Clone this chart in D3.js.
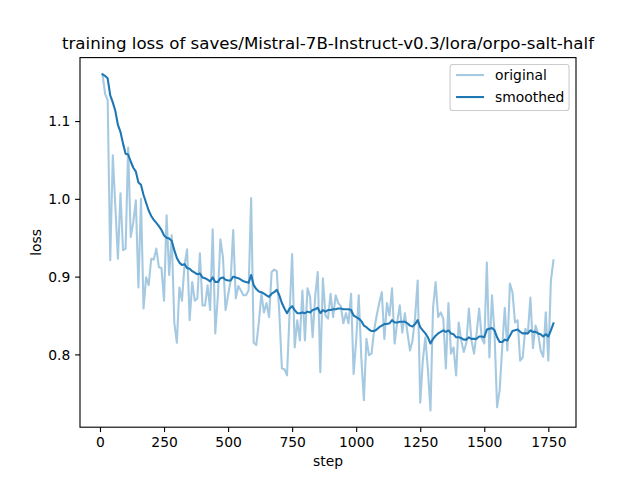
<!DOCTYPE html>
<html>
<head>
<meta charset="utf-8">
<script src="https://cdn.jsdelivr.net/npm/d3@7"></script>
<style>
  html, body { margin: 0; padding: 0; background: #fff; }
  svg { display: block; font-family: "DejaVu Sans", sans-serif; }
</style>
</head>
<body>
<svg id="chart" width="640" height="480"></svg>
<script>
const titleText = "training loss of saves/Mistral-7B-Instruct-v0.3/lora/orpo-salt-half";
const xLabel = "step";
const yLabel = "loss";
const seriesNames = ["original", "smoothed"];
const xTicks = [0, 250, 500, 750, 1000, 1250, 1500, 1750];
const yTicks = [0.8, 0.9, 1.0, 1.1];

const steps = [10,20,30,40,50,60,70,80,90,100,110,120,130,140,150,160,170,180,190,200,
210,220,230,240,250,260,270,280,290,300,310,320,330,340,350,360,370,380,390,400,
410,420,430,440,450,460,470,480,490,500,510,520,530,540,550,560,570,580,590,600,
610,620,630,640,650,660,670,680,690,700,710,720,730,740,750,760,770,780,790,800,
810,820,830,840,850,860,870,880,890,900,910,920,930,940,950,960,970,980,990,1000,
1010,1020,1030,1040,1050,1060,1070,1080,1090,1100,1110,1120,1130,1140,1150,1160,1170,1180,1190,1200,
1210,1220,1230,1240,1250,1260,1270,1280,1290,1300,1310,1320,1330,1340,1350,1360,1370,1380,1390,1400,
1410,1420,1430,1440,1450,1460,1470,1480,1490,1500,1510,1520,1530,1540,1550,1560,1570,1580,1590,1600,
1610,1620,1630,1640,1650,1660,1670,1680,1690,1700,1710,1720,1730,1740,1750,1760,1770];

const original = [1.160,1.135,1.127,0.921,1.056,0.990,0.923,1.007,0.934,0.936,
1.066,0.951,0.970,0.998,0.886,1.000,0.859,0.899,0.889,0.923,
0.922,0.936,0.912,0.911,0.869,0.979,0.902,0.953,0.841,0.815,
0.886,0.869,0.915,0.935,0.844,0.893,0.869,0.872,0.930,0.863,
0.863,0.889,0.857,0.961,0.827,0.874,0.948,0.925,0.857,0.876,
0.895,0.960,0.872,0.888,0.882,0.876,0.876,0.882,1.001,0.815,
0.812,0.841,0.878,0.854,0.866,0.848,0.906,0.909,0.907,0.853,
0.782,0.781,0.773,0.853,0.929,0.809,0.844,0.818,0.882,0.818,
0.885,0.874,0.822,0.875,0.906,0.777,0.898,0.850,0.846,0.878,
0.848,0.876,0.866,0.862,0.840,0.853,0.840,0.878,0.775,0.818,
0.876,0.796,0.741,0.820,0.799,0.801,0.831,0.850,0.866,0.880,
0.820,0.866,0.850,0.885,0.814,0.841,0.863,0.828,0.853,0.828,
0.805,0.818,0.848,0.895,0.738,0.792,0.822,0.780,0.728,0.860,
0.893,0.848,0.854,0.846,0.782,0.866,0.801,0.809,0.773,0.841,
0.818,0.803,0.815,0.859,0.818,0.801,0.827,0.859,0.821,0.814,
0.918,0.796,0.876,0.827,0.732,0.754,0.809,0.860,0.805,0.891,
0.880,0.841,0.844,0.792,0.796,0.833,0.827,0.873,0.808,0.837,
0.827,0.805,0.797,0.854,0.792,0.895,0.921];

const smoothed = [1.160,1.158,1.155,1.133,1.124,1.113,1.095,1.086,1.071,1.058,
1.057,1.048,1.040,1.035,1.021,1.018,1.005,0.995,0.985,0.978,
0.973,0.969,0.965,0.960,0.953,0.950,0.949,0.946,0.934,0.924,
0.918,0.915,0.916,0.911,0.910,0.907,0.905,0.903,0.904,0.899,
0.898,0.896,0.894,0.899,0.893,0.893,0.898,0.899,0.896,0.895,
0.895,0.900,0.899,0.898,0.896,0.894,0.893,0.892,0.902,0.889,
0.884,0.881,0.880,0.878,0.876,0.874,0.878,0.880,0.883,0.876,
0.866,0.859,0.853,0.859,0.862,0.857,0.853,0.853,0.854,0.853,
0.855,0.854,0.857,0.858,0.860,0.853,0.857,0.855,0.857,0.857,
0.858,0.858,0.859,0.859,0.858,0.858,0.858,0.857,0.850,0.848,
0.846,0.843,0.837,0.835,0.832,0.830,0.830,0.832,0.835,0.837,
0.839,0.839,0.840,0.844,0.841,0.841,0.842,0.842,0.842,0.840,
0.837,0.836,0.839,0.844,0.835,0.831,0.827,0.822,0.814,0.820,
0.824,0.827,0.829,0.831,0.829,0.831,0.827,0.826,0.822,0.822,
0.821,0.819,0.819,0.822,0.820,0.820,0.820,0.823,0.823,0.822,
0.832,0.833,0.834,0.831,0.822,0.816,0.816,0.819,0.818,0.824,
0.830,0.831,0.832,0.829,0.827,0.827,0.827,0.831,0.829,0.829,
0.827,0.826,0.823,0.826,0.823,0.831,0.840];

(function () {
const plotL = 80, plotR = 576, plotT = 57.6, plotB = 427.2;
const color = "#1f77b4";
const px = pt => pt * 100 / 72;

const svg = d3.select("#chart");

// matplotlib-like 5% margins
const xExt = d3.extent(steps);
const xPad = (xExt[1] - xExt[0]) * 0.05;
const yExt = d3.extent(original.concat(smoothed));
const yPad = (yExt[1] - yExt[0]) * 0.05;

const x = d3.scaleLinear().domain([xExt[0] - xPad, xExt[1] + xPad]).range([plotL, plotR]);
const y = d3.scaleLinear().domain([yExt[0] - yPad, yExt[1] + yPad]).range([plotB, plotT]);

const lineGen = d3.line()
  .x(d => x(d[0]))
  .y(d => y(d[1]));

const origPts = steps.map((s, i) => [s, original[i]]);
const smoothPts = steps.map((s, i) => [s, smoothed[i]]);

svg.append("path")
  .attr("d", lineGen(origPts))
  .attr("fill", "none")
  .attr("stroke", color)
  .attr("stroke-opacity", 0.4)
  .attr("stroke-width", px(1.5))
  .attr("stroke-linejoin", "round")
  .attr("stroke-linecap", "square");

svg.append("path")
  .attr("d", lineGen(smoothPts))
  .attr("fill", "none")
  .attr("stroke", color)
  .attr("stroke-width", px(1.5))
  .attr("stroke-linejoin", "round")
  .attr("stroke-linecap", "square");

// axes
const tickLen = px(3.5), tickPad = px(3.5);
const xAxis = d3.axisBottom(x).tickValues(xTicks).tickFormat(d3.format("d"))
  .tickSize(tickLen).tickPadding(tickPad);
const yAxis = d3.axisLeft(y).tickValues(yTicks).tickFormat(d3.format(".1f"))
  .tickSize(tickLen).tickPadding(tickPad);

const gx = svg.append("g").attr("transform", `translate(0,${plotB})`).call(xAxis);
const gy = svg.append("g").attr("transform", `translate(${plotL},0)`).call(yAxis);
[gx, gy].forEach(g => {
  g.select(".domain").remove();
  g.selectAll(".tick line").attr("stroke", "#000").attr("stroke-width", px(0.8));
  g.selectAll(".tick text")
    .attr("fill", "#000")
    .style("font-family", "DejaVu Sans")
    .style("font-size", px(10) + "px");
});
gx.selectAll(".tick text").attr("dy", "0.72em");
gy.selectAll(".tick text").attr("dy", "0.35em");

// spines
svg.append("rect")
  .attr("x", plotL).attr("y", plotT)
  .attr("width", plotR - plotL).attr("height", plotB - plotT)
  .attr("fill", "none")
  .attr("stroke", "#000")
  .attr("stroke-width", px(0.8));

// title
svg.append("text")
  .attr("x", (plotL + plotR) / 2).attr("y", 49)
  .attr("text-anchor", "middle")
  .style("font-size", px(12) + "px")
  .attr("fill", "#000")
  .text(titleText);

// axis labels
svg.append("text")
  .attr("x", (plotL + plotR) / 2).attr("y", 466)
  .attr("text-anchor", "middle")
  .style("font-size", px(10) + "px")
  .text(xLabel);

svg.append("text")
  .attr("transform", `translate(41,${(plotT + plotB) / 2}) rotate(-90)`)
  .attr("text-anchor", "middle")
  .style("font-size", px(10) + "px")
  .text(yLabel);

// legend
const lgW = 119, lgH = 46;
const lgX = plotR - px(5) - lgW, lgY = plotT + px(5);
const lg = svg.append("g");
lg.append("rect")
  .attr("x", lgX).attr("y", lgY)
  .attr("width", lgW).attr("height", lgH)
  .attr("rx", 2.8).attr("ry", 2.8)
  .attr("fill", "#fff").attr("fill-opacity", 0.8)
  .attr("stroke", "#cccccc").attr("stroke-width", px(0.8));
const rowY = [lgY + 10.5, lgY + 32.5];
seriesNames.forEach((name, i) => {
  lg.append("line")
    .attr("x1", lgX + 6).attr("x2", lgX + 34)
    .attr("y1", rowY[i]).attr("y2", rowY[i])
    .attr("stroke", color)
    .attr("stroke-opacity", i === 0 ? 0.4 : 1)
    .attr("stroke-width", px(1.5));
  lg.append("text")
    .attr("x", lgX + 45).attr("y", rowY[i])
    .attr("dy", "0.35em")
    .style("font-size", px(10) + "px")
    .text(name);
});
})();
</script>
</body>
</html>
